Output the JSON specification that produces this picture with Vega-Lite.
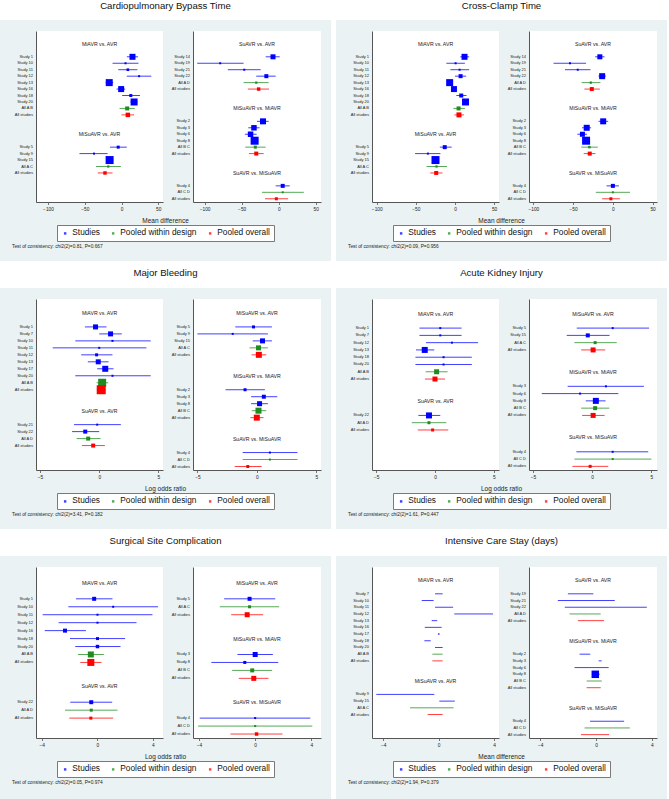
{
"$schema": "https://vega.github.io/schema/vega-lite/v6.json",
"background": "#eaf2f3",
"padding": 0,
"config": {
  "font": "Liberation Sans",
  "view": {"stroke": null},
  "axis": {"grid": false, "domainColor": "#555555", "tickColor": "#555555", "labelColor": "#222222", "labelFlush": false, "labelFontSize": 4.8, "tickSize": 2.5, "labelPadding": 1.5, "domainWidth": 1, "tickWidth": 0.8},
  "title": {"fontWeight": "normal", "color": "#111111"},
  "legend": {"orient": "bottom", "direction": "horizontal", "fillColor": "white", "strokeColor": "#7a7a7a", "padding": 4, "labelFontSize": 8.3, "labelColor": "#111111", "symbolSize": 6, "symbolStrokeWidth": 0, "symbolType": "square", "columnPadding": 9, "labelOffset": 3, "offset": 0, "layout": {"bottom": {"anchor": "middle"}}}
},
"resolve": {"legend": {"color": "independent"}},
"spacing": 0,
"datasets": {
"p1L": [
{"row":0,"label":"MiAVR vs. AVR"},
{"row":2,"label":"Study 1","type":"Studies","est":14.9,"lo":7.2,"hi":22.5,"w":36},
{"row":3,"label":"Study 10","type":"Studies","est":5.4,"lo":-12.2,"hi":23,"w":4},
{"row":4,"label":"Study 11","type":"Studies","est":8.6,"lo":-4.5,"hi":21.6,"w":7},
{"row":5,"label":"Study 12","type":"Studies","est":23.9,"lo":7.2,"hi":40.5,"w":4},
{"row":6,"label":"Study 13","type":"Studies","est":-16.7,"lo":-21.6,"hi":-11.3,"w":49},
{"row":7,"label":"Study 16","type":"Studies","est":-0.5,"lo":-6.8,"hi":5,"w":36},
{"row":8,"label":"Study 18","type":"Studies","est":12.6,"lo":0.9,"hi":25.2,"w":9},
{"row":9,"label":"Study 20","type":"Studies","est":17.1,"lo":12.2,"hi":21.6,"w":49},
{"row":10,"label":"All A B","type":"Pooled within design","est":7.7,"lo":-2.7,"hi":18,"w":16},
{"row":11,"label":"All studies","type":"Pooled overall","est":8.6,"lo":0,"hi":17.1,"w":20},
{"row":14,"label":"MiSuAVR vs. AVR"},
{"row":16,"label":"Study 5","type":"Studies","est":-4.5,"lo":-15.8,"hi":7.2,"w":9},
{"row":17,"label":"Study 9","type":"Studies","est":-37.4,"lo":-57.2,"hi":-18.9,"w":4},
{"row":18,"label":"Study 15","type":"Studies","est":-16.2,"lo":-20.7,"hi":-11.3,"w":64},
{"row":19,"label":"All A C","type":"Pooled within design","est":-18,"lo":-34.7,"hi":-0.9,"w":5},
{"row":20,"label":"All studies","type":"Pooled overall","est":-22.5,"lo":-32.4,"hi":-12.2,"w":12}
],
"p1R": [
{"row":0,"label":"SuAVR vs. AVR"},
{"row":2,"label":"Study 14","type":"Studies","est":-7.7,"lo":-17.6,"hi":1.4,"w":25},
{"row":3,"label":"Study 19","type":"Studies","est":-79,"lo":-110,"hi":-47.4,"w":4},
{"row":4,"label":"Study 21","type":"Studies","est":-46.5,"lo":-68.7,"hi":-24.4,"w":4},
{"row":5,"label":"Study 22","type":"Studies","est":-16.7,"lo":-30.3,"hi":-4.1,"w":16},
{"row":6,"label":"All A D","type":"Pooled within design","est":-30.3,"lo":-47.4,"hi":-13.6,"w":5},
{"row":7,"label":"All studies","type":"Pooled overall","est":-27.1,"lo":-41.6,"hi":-13.1,"w":12},
{"row":10,"label":"MiSuAVR vs. MiAVR"},
{"row":12,"label":"Study 2","type":"Studies","est":-21.2,"lo":-29.4,"hi":-13.6,"w":36},
{"row":13,"label":"Study 3","type":"Studies","est":-33.4,"lo":-41.1,"hi":-25.8,"w":30},
{"row":14,"label":"Study 6","type":"Studies","est":-38,"lo":-45.6,"hi":-29.8,"w":30},
{"row":15,"label":"Study 8","type":"Studies","est":-32.5,"lo":-37,"hi":-27.6,"w":64},
{"row":16,"label":"All B C","type":"Pooled within design","est":-31.6,"lo":-45.2,"hi":-17.6,"w":9},
{"row":17,"label":"All studies","type":"Pooled overall","est":-30.3,"lo":-40.2,"hi":-20.3,"w":16},
{"row":20,"label":"SuAVR vs. MiSuAVR"},
{"row":22,"label":"Study 4","type":"Studies","est":5.4,"lo":-4.1,"hi":14.9,"w":16},
{"row":23,"label":"All C D","type":"Pooled within design","est":5.4,"lo":-22.6,"hi":33.9,"w":4},
{"row":24,"label":"All studies","type":"Pooled overall","est":-3.2,"lo":-18.5,"hi":12.7,"w":9}
],
"p2L": [
{"row":0,"label":"MiAVR vs. AVR"},
{"row":2,"label":"Study 1","type":"Studies","est":12.2,"lo":6.8,"hi":18.1,"w":36},
{"row":3,"label":"Study 10","type":"Studies","est":0.8,"lo":-11,"hi":12.7,"w":4},
{"row":4,"label":"Study 11","type":"Studies","est":5.9,"lo":-5.9,"hi":18.1,"w":4},
{"row":5,"label":"Study 12","type":"Studies","est":7.2,"lo":0,"hi":14.3,"w":16},
{"row":6,"label":"Study 13","type":"Studies","est":-6.8,"lo":-10.1,"hi":-3.4,"w":49},
{"row":7,"label":"Study 16","type":"Studies","est":-1.3,"lo":-5.1,"hi":2.1,"w":36},
{"row":8,"label":"Study 18","type":"Studies","est":8,"lo":1.7,"hi":14.8,"w":16},
{"row":9,"label":"Study 20","type":"Studies","est":13.5,"lo":10.1,"hi":16.9,"w":49},
{"row":10,"label":"All A B","type":"Pooled within design","est":4.6,"lo":-2.1,"hi":12.7,"w":16},
{"row":11,"label":"All studies","type":"Pooled overall","est":5.1,"lo":-0.8,"hi":11.4,"w":25},
{"row":14,"label":"MiSuAVR vs. AVR"},
{"row":16,"label":"Study 5","type":"Studies","est":-13.1,"lo":-19.4,"hi":-4.2,"w":16},
{"row":17,"label":"Study 9","type":"Studies","est":-34.6,"lo":-51,"hi":-18.6,"w":4},
{"row":18,"label":"Study 15","type":"Studies","est":-24.9,"lo":-29.1,"hi":-20.7,"w":64},
{"row":19,"label":"All A C","type":"Pooled within design","est":-23.6,"lo":-36.3,"hi":-10.1,"w":5},
{"row":20,"label":"All studies","type":"Pooled overall","est":-24,"lo":-31.6,"hi":-16,"w":16}
],
"p2R": [
{"row":0,"label":"SuAVR vs. AVR"},
{"row":2,"label":"Study 14","type":"Studies","est":-16.4,"lo":-22.3,"hi":-10.5,"w":25},
{"row":3,"label":"Study 19","type":"Studies","est":-53.9,"lo":-74.6,"hi":-33.7,"w":4},
{"row":4,"label":"Study 21","type":"Studies","est":-44.2,"lo":-60.3,"hi":-28.2,"w":4},
{"row":5,"label":"Study 22","type":"Studies","est":-13.5,"lo":-18.1,"hi":-8.8,"w":36},
{"row":6,"label":"All A D","type":"Pooled within design","est":-27.8,"lo":-39.2,"hi":-15.6,"w":5},
{"row":7,"label":"All studies","type":"Pooled overall","est":-26.5,"lo":-35.8,"hi":-16.4,"w":16},
{"row":10,"label":"MiSuAVR vs. MiAVR"},
{"row":12,"label":"Study 2","type":"Studies","est":-12.2,"lo":-18.1,"hi":-5.9,"w":36},
{"row":13,"label":"Study 3","type":"Studies","est":-32.9,"lo":-38.8,"hi":-27.4,"w":36},
{"row":14,"label":"Study 6","type":"Studies","est":-38.3,"lo":-44.7,"hi":-32.5,"w":25},
{"row":15,"label":"Study 8","type":"Studies","est":-33.7,"lo":-37.9,"hi":-29.5,"w":64},
{"row":16,"label":"All B C","type":"Pooled within design","est":-29.5,"lo":-39.6,"hi":-19,"w":6},
{"row":17,"label":"All studies","type":"Pooled overall","est":-29.1,"lo":-36.7,"hi":-21.9,"w":16},
{"row":20,"label":"SuAVR vs. MiSuAVR"},
{"row":22,"label":"Study 4","type":"Studies","est":0,"lo":-8,"hi":7.6,"w":16},
{"row":23,"label":"All C D","type":"Pooled within design","est":0,"lo":-21.5,"hi":21.5,"w":4},
{"row":24,"label":"All studies","type":"Pooled overall","est":-2.5,"lo":-13.5,"hi":8.8,"w":9}
],
"p3L": [
{"row":0,"label":"MiAVR vs. AVR"},
{"row":2,"label":"Study 1","type":"Studies","est":-0.31,"lo":-1.21,"hi":0.62,"w":25},
{"row":3,"label":"Study 7","type":"Studies","est":0.96,"lo":0,"hi":1.91,"w":25},
{"row":4,"label":"Study 10","type":"Studies","est":1.12,"lo":-2.02,"hi":4.35,"w":4},
{"row":5,"label":"Study 11","type":"Studies","est":0,"lo":-3.93,"hi":3.99,"w":4},
{"row":6,"label":"Study 12","type":"Studies","est":-0.22,"lo":-1.52,"hi":1.12,"w":9},
{"row":7,"label":"Study 13","type":"Studies","est":-0.08,"lo":-0.96,"hi":0.79,"w":25},
{"row":8,"label":"Study 17","type":"Studies","est":0.51,"lo":-0.17,"hi":1.21,"w":36},
{"row":9,"label":"Study 20","type":"Studies","est":1.12,"lo":-2.02,"hi":4.35,"w":4},
{"row":10,"label":"All A B","type":"Pooled within design","est":0.25,"lo":-0.22,"hi":0.76,"w":64},
{"row":11,"label":"All studies","type":"Pooled overall","est":0.17,"lo":-0.2,"hi":0.56,"w":81},
{"row":14,"label":"SuAVR vs. AVR"},
{"row":16,"label":"Study 21","type":"Studies","est":-0.17,"lo":-2.13,"hi":1.83,"w":4},
{"row":17,"label":"Study 22","type":"Studies","est":-1.18,"lo":-2.3,"hi":0,"w":16},
{"row":18,"label":"All A D","type":"Pooled within design","est":-0.93,"lo":-1.91,"hi":0.11,"w":16},
{"row":19,"label":"All studies","type":"Pooled overall","est":-0.51,"lo":-1.46,"hi":0.48,"w":16}
],
"p3R": [
{"row":0,"label":"MiSuAVR vs. AVR"},
{"row":2,"label":"Study 5","type":"Studies","est":-0.28,"lo":-1.81,"hi":1.27,"w":9},
{"row":3,"label":"Study 9","type":"Studies","est":-2.03,"lo":-5,"hi":0.93,"w":4},
{"row":4,"label":"Study 15","type":"Studies","est":0.48,"lo":-0.34,"hi":1.27,"w":25},
{"row":5,"label":"All A C","type":"Pooled within design","est":0.14,"lo":-0.62,"hi":0.93,"w":25},
{"row":6,"label":"All studies","type":"Pooled overall","est":0.17,"lo":-0.45,"hi":0.79,"w":36},
{"row":9,"label":"MiSuAVR vs. MiAVR"},
{"row":11,"label":"Study 2","type":"Studies","est":-0.99,"lo":-2.63,"hi":0.68,"w":9},
{"row":12,"label":"Study 3","type":"Studies","est":0.59,"lo":-0.48,"hi":1.72,"w":16},
{"row":13,"label":"Study 8","type":"Studies","est":0.23,"lo":-0.48,"hi":0.93,"w":25},
{"row":14,"label":"All B C","type":"Pooled within design","est":0.14,"lo":-0.42,"hi":0.79,"w":36},
{"row":15,"label":"All studies","type":"Pooled overall","est":0,"lo":-0.54,"hi":0.56,"w":36},
{"row":18,"label":"SuAVR vs. MiSuAVR"},
{"row":20,"label":"Study 4","type":"Studies","est":1.1,"lo":-1.19,"hi":3.42,"w":4},
{"row":21,"label":"All C D","type":"Pooled within design","est":1.1,"lo":-1.19,"hi":3.42,"w":4},
{"row":22,"label":"All studies","type":"Pooled overall","est":-0.76,"lo":-1.86,"hi":0.4,"w":9}
],
"p4L": [
{"row":0,"label":"MiAVR vs. AVR"},
{"row":2,"label":"Study 1","type":"Studies","est":0.45,"lo":-1.32,"hi":2.26,"w":4},
{"row":3,"label":"Study 7","type":"Studies","est":0.45,"lo":-1.32,"hi":2.26,"w":4},
{"row":4,"label":"Study 12","type":"Studies","est":1.44,"lo":-0.76,"hi":3.66,"w":4},
{"row":5,"label":"Study 13","type":"Studies","est":-0.87,"lo":-1.61,"hi":-0.06,"w":36},
{"row":6,"label":"Study 18","type":"Studies","est":0.73,"lo":-1.66,"hi":3.13,"w":4},
{"row":7,"label":"Study 20","type":"Studies","est":0.73,"lo":-1.66,"hi":3.13,"w":4},
{"row":8,"label":"All A B","type":"Pooled within design","est":0.14,"lo":-0.79,"hi":1.07,"w":25},
{"row":9,"label":"All studies","type":"Pooled overall","est":0,"lo":-0.85,"hi":0.85,"w":25},
{"row":12,"label":"SuAVR vs. AVR"},
{"row":14,"label":"Study 22","type":"Studies","est":-0.51,"lo":-1.41,"hi":0.45,"w":36},
{"row":15,"label":"All A D","type":"Pooled within design","est":-0.51,"lo":-1.97,"hi":0.96,"w":9},
{"row":16,"label":"All studies","type":"Pooled overall","est":-0.2,"lo":-1.46,"hi":1.13,"w":9}
],
"p4R": [
{"row":0,"label":"MiSuAVR vs. AVR"},
{"row":2,"label":"Study 5","type":"Studies","est":1.73,"lo":-1.3,"hi":4.8,"w":4},
{"row":3,"label":"Study 15","type":"Studies","est":-0.37,"lo":-2.15,"hi":1.47,"w":16},
{"row":4,"label":"All A C","type":"Pooled within design","est":0.25,"lo":-1.5,"hi":2.07,"w":9},
{"row":5,"label":"All studies","type":"Pooled overall","est":0.08,"lo":-0.93,"hi":1.1,"w":25},
{"row":8,"label":"MiSuAVR vs. MiAVR"},
{"row":10,"label":"Study 3","type":"Studies","est":1.16,"lo":-2.07,"hi":4.36,"w":4},
{"row":11,"label":"Study 6","type":"Studies","est":-1.02,"lo":-4.25,"hi":2.21,"w":4},
{"row":12,"label":"Study 8","type":"Studies","est":0.31,"lo":-0.54,"hi":1.13,"w":36},
{"row":13,"label":"All B C","type":"Pooled within design","est":0.25,"lo":-0.93,"hi":1.44,"w":16},
{"row":14,"label":"All studies","type":"Pooled overall","est":0.08,"lo":-0.85,"hi":1.05,"w":25},
{"row":17,"label":"SuAVR vs. MiSuAVR"},
{"row":19,"label":"Study 4","type":"Studies","est":1.73,"lo":-1.33,"hi":4.73,"w":4},
{"row":20,"label":"All C D","type":"Pooled within design","est":1.73,"lo":-1.5,"hi":5,"w":4},
{"row":21,"label":"All studies","type":"Pooled overall","est":-0.17,"lo":-1.67,"hi":1.36,"w":9}
],
"p5L": [
{"row":0,"label":"MiAVR vs. AVR"},
{"row":2,"label":"Study 1","type":"Studies","est":-0.22,"lo":-1.53,"hi":1.1,"w":16},
{"row":3,"label":"Study 10","type":"Studies","est":1.15,"lo":-2.08,"hi":4.38,"w":4},
{"row":4,"label":"Study 11","type":"Studies","est":0.02,"lo":-3.93,"hi":3.98,"w":4},
{"row":5,"label":"Study 12","type":"Studies","est":0.02,"lo":-2.78,"hi":2.83,"w":4},
{"row":6,"label":"Study 16","type":"Studies","est":-2.32,"lo":-3.78,"hi":-0.81,"w":16},
{"row":7,"label":"Study 18","type":"Studies","est":0.02,"lo":-1.96,"hi":2.01,"w":9},
{"row":8,"label":"Study 20","type":"Studies","est":0.02,"lo":-1.58,"hi":1.68,"w":12},
{"row":9,"label":"All A B","type":"Pooled within design","est":-0.46,"lo":-1.39,"hi":0.48,"w":36},
{"row":10,"label":"All studies","type":"Pooled overall","est":-0.46,"lo":-1.22,"hi":0.31,"w":49},
{"row":13,"label":"SuAVR vs. AVR"},
{"row":15,"label":"Study 22","type":"Studies","est":-0.43,"lo":-1.94,"hi":1.08,"w":16},
{"row":16,"label":"All A D","type":"Pooled within design","est":-0.43,"lo":-2.32,"hi":1.46,"w":9},
{"row":17,"label":"All studies","type":"Pooled overall","est":-0.46,"lo":-2.01,"hi":1.15,"w":9}
],
"p5R": [
{"row":0,"label":"MiSuAVR vs. AVR"},
{"row":2,"label":"Study 5","type":"Studies","est":-0.4,"lo":-2.21,"hi":1.43,"w":16},
{"row":3,"label":"All A C","type":"Pooled within design","est":-0.4,"lo":-2.52,"hi":1.71,"w":9},
{"row":4,"label":"All studies","type":"Pooled overall","est":-0.57,"lo":-1.71,"hi":0.57,"w":25},
{"row":7,"label":"MiSuAVR vs. MiAVR"},
{"row":9,"label":"Study 3","type":"Studies","est":0,"lo":-1.26,"hi":1.26,"w":25},
{"row":10,"label":"Study 8","type":"Studies","est":-0.74,"lo":-3.12,"hi":1.64,"w":9},
{"row":11,"label":"All B C","type":"Pooled within design","est":-0.21,"lo":-1.64,"hi":1.21,"w":16},
{"row":12,"label":"All studies","type":"Pooled overall","est":-0.1,"lo":-1.17,"hi":0.95,"w":25},
{"row":15,"label":"SuAVR vs. MiSuAVR"},
{"row":17,"label":"Study 4","type":"Studies","est":0,"lo":-3.95,"hi":3.93,"w":4},
{"row":18,"label":"All C D","type":"Pooled within design","est":0,"lo":-4.07,"hi":4.07,"w":4},
{"row":19,"label":"All studies","type":"Pooled overall","est":0.1,"lo":-1.76,"hi":1.95,"w":12}
],
"p6L": [
{"row":0,"label":"MiAVR vs. AVR"},
{"row":2,"label":"Study 7","type":"Studies","est":0,"lo":-0.26,"hi":0.29,"w":0},
{"row":3,"label":"Study 10","type":"Studies","est":-0.79,"lo":-1.22,"hi":-0.36,"w":0},
{"row":4,"label":"Study 11","type":"Studies","est":0.4,"lo":-0.26,"hi":1.05,"w":0},
{"row":5,"label":"Study 12","type":"Studies","est":2.53,"lo":1.13,"hi":3.93,"w":0},
{"row":6,"label":"Study 13","type":"Studies","est":-0.3,"lo":-0.5,"hi":-0.1,"w":0},
{"row":7,"label":"Study 16","type":"Studies","est":-0.4,"lo":-1.0,"hi":0.22,"w":0},
{"row":8,"label":"Study 17","type":"Studies","est":0.01,"lo":-0.05,"hi":0.07,"w":1},
{"row":9,"label":"Study 18","type":"Studies","est":-0.8,"lo":-1.03,"hi":-0.57,"w":0},
{"row":10,"label":"Study 20","type":"Studies","est":0,"lo":-0.26,"hi":0.29,"w":0},
{"row":11,"label":"All A B","type":"Pooled within design","est":-0.08,"lo":-0.45,"hi":0.29,"w":0},
{"row":12,"label":"All studies","type":"Pooled overall","est":-0.08,"lo":-0.45,"hi":0.29,"w":0},
{"row":15,"label":"MiSuAVR vs. AVR"},
{"row":17,"label":"Study 9","type":"Studies","est":-2.4,"lo":-4.5,"hi":-0.31,"w":0},
{"row":18,"label":"Study 15","type":"Studies","est":0.61,"lo":0.05,"hi":1.17,"w":0},
{"row":19,"label":"All A C","type":"Pooled within design","est":-0.49,"lo":-2.06,"hi":1.08,"w":0},
{"row":20,"label":"All studies","type":"Pooled overall","est":-0.25,"lo":-0.79,"hi":0.29,"w":0}
],
"p6R": [
{"row":0,"label":"SuAVR vs. AVR"},
{"row":2,"label":"Study 19","type":"Studies","est":-1.1,"lo":-2.02,"hi":-0.19,"w":0},
{"row":3,"label":"Study 21","type":"Studies","est":-0.7,"lo":-2.74,"hi":1.35,"w":0},
{"row":4,"label":"Study 22","type":"Studies","est":0.7,"lo":-2.24,"hi":3.65,"w":0},
{"row":5,"label":"All A D","type":"Pooled within design","est":-0.78,"lo":-1.9,"hi":0.34,"w":0},
{"row":6,"label":"All studies","type":"Pooled overall","est":-0.36,"lo":-1.3,"hi":0.58,"w":0},
{"row":9,"label":"MiSuAVR vs. MiAVR"},
{"row":11,"label":"Study 2","type":"Studies","est":-0.8,"lo":-1.18,"hi":-0.41,"w":0},
{"row":12,"label":"Study 3","type":"Studies","est":0.3,"lo":0.19,"hi":0.41,"w":0},
{"row":13,"label":"Study 6","type":"Studies","est":-0.31,"lo":-1.54,"hi":0.91,"w":0},
{"row":14,"label":"Study 8","type":"Studies","est":-0.05,"lo":-0.19,"hi":0.26,"w":56},
{"row":15,"label":"All B C","type":"Pooled within design","est":-0.13,"lo":-0.67,"hi":0.41,"w":0},
{"row":16,"label":"All studies","type":"Pooled overall","est":-0.17,"lo":-0.67,"hi":0.34,"w":0},
{"row":19,"label":"SuAVR vs. MiSuAVR"},
{"row":21,"label":"Study 4","type":"Studies","est":0.8,"lo":-0.43,"hi":2.02,"w":0},
{"row":22,"label":"All C D","type":"Pooled within design","est":0.8,"lo":-0.82,"hi":2.43,"w":0},
{"row":23,"label":"All studies","type":"Pooled overall","est":-0.07,"lo":-1.08,"hi":0.94,"w":0}
],
"titles": [
{"id":"p1","t":"Cardiopulmonary Bypass Time"},
{"id":"p2","t":"Cross-Clamp Time"},
{"id":"p3","t":"Major Bleeding"},
{"id":"p4","t":"Acute Kidney Injury"},
{"id":"p5","t":"Surgical Site Complication"},
{"id":"p6","t":"Intensive Care Stay (days)"}
]
},
"hconcat": [
{
 "resolve": {"legend": {"color": "independent"}},
 "spacing": 12,
 "vconcat": [
  {
   "title": {"text": "Test of consistency: chi2(2)=0.81, P=0.667", "orient": "bottom", "anchor": "start", "fontSize": 4.8, "offset": 2, "dx": 12, "color": "#222222"},
   "spacing": 11,
   "vconcat": [
    {"width": 331, "height": 20, "view": {"fill": "white", "stroke": null}, "data": {"name": "titles"}, "transform": [{"filter": "datum.id == 'p1'"}], "mark": {"type": "text", "fontSize": 9.6, "dy": -4.5, "color": "#111111"}, "encoding": {"text": {"field": "t"}}},
    {"hconcat": [
      {"width": 6, "height": 171, "data": {"values": []}, "mark": "text", "encoding": {}},
      {"width": 127, "height": 171, "data": {"name": "p1L"}, "view": {"fill": "white", "stroke": null},
       "encoding": {"y": {"field": "row", "type": "quantitative", "scale": {"domain": [-2, 24.5], "reverse": true, "nice": false, "zero": false}, "axis": {"labels": false, "ticks": false, "title": null}}},
       "layer": [
        {"transform": [{"filter": "isValid(datum.type)"}], "mark": {"type": "rule", "strokeWidth": 1, "opacity": 0.75}, "encoding": {"x": {"field": "lo", "type": "quantitative", "scale": {"domain": [-116.3, 56.4], "nice": false, "zero": false}, "axis": {"values": [-100, -50, 0, 50], "title": null}}, "x2": {"field": "hi"}, "color": {"field": "type", "type": "nominal", "scale": {"domain": ["Studies", "Pooled within design", "Pooled overall"], "range": ["#0000ff", "#1e8c1e", "#ff0000"]}, "legend": {"title": null, "symbolType": "square"}}}},
        {"transform": [{"filter": "isValid(datum.type)"}], "mark": {"type": "point", "shape": "square", "filled": true, "opacity": 1}, "encoding": {"x": {"field": "est", "type": "quantitative"}, "size": {"field": "w", "type": "quantitative", "scale": {"domain": [0, 100], "range": [0, 100]}, "legend": null}, "color": {"field": "type", "type": "nominal", "legend": {"title": null, "symbolType": "square"}}}},
        {"transform": [{"filter": "isValid(datum.type)"}], "mark": {"type": "text", "align": "right", "fontSize": 4, "dx": -3, "color": "#222222"}, "encoding": {"x": {"datum": -116.3, "type": "quantitative"}, "text": {"field": "label"}}},
        {"transform": [{"filter": "!isValid(datum.type)"}], "mark": {"type": "text", "fontSize": 5.2, "color": "#222222"}, "encoding": {"text": {"field": "label"}}}
       ]},
      {"width": 128, "height": 171, "data": {"name": "p1R"}, "view": {"fill": "white", "stroke": null},
       "encoding": {"y": {"field": "row", "type": "quantitative", "scale": {"domain": [-2, 24.5], "reverse": true, "nice": false, "zero": false}, "axis": {"labels": false, "ticks": false, "title": null}}},
       "layer": [
        {"transform": [{"filter": "isValid(datum.type)"}], "mark": {"type": "rule", "strokeWidth": 1, "opacity": 0.75}, "encoding": {"x": {"field": "lo", "type": "quantitative", "scale": {"domain": [-115.7, 57.1], "nice": false, "zero": false}, "axis": {"values": [-100, -50, 0, 50], "title": null}}, "x2": {"field": "hi"}, "color": {"field": "type", "type": "nominal", "legend": {"title": null, "symbolType": "square"}}}},
        {"transform": [{"filter": "isValid(datum.type)"}], "mark": {"type": "point", "shape": "square", "filled": true, "opacity": 1}, "encoding": {"x": {"field": "est", "type": "quantitative"}, "size": {"field": "w", "type": "quantitative", "legend": null}, "color": {"field": "type", "type": "nominal", "legend": {"title": null, "symbolType": "square"}}}},
        {"transform": [{"filter": "isValid(datum.type)"}], "mark": {"type": "text", "align": "right", "fontSize": 4, "dx": -3, "color": "#222222"}, "encoding": {"x": {"datum": -115.7, "type": "quantitative"}, "text": {"field": "label"}}},
        {"transform": [{"filter": "!isValid(datum.type)"}], "mark": {"type": "text", "fontSize": 5.2, "color": "#222222"}, "encoding": {"text": {"field": "label"}}}
       ]}
     ],
     "spacing": 30, "bounds": "flush",
     "title": {"text": "Mean difference", "orient": "bottom", "anchor": "middle", "fontSize": 6.5, "offset": 7, "dx": 5, "color": "#222222"}}
   ]
  },
  {
   "title": {"text": "Test of consistency: chi2(2)=3.41, P=0.182", "orient": "bottom", "anchor": "start", "fontSize": 4.8, "offset": 2, "dx": 12, "color": "#222222"},
   "spacing": 11,
   "vconcat": [
    {"width": 331, "height": 27, "view": {"fill": "white", "stroke": null}, "data": {"name": "titles"}, "transform": [{"filter": "datum.id == 'p3'"}], "mark": {"type": "text", "fontSize": 9.6, "dy": -1.5, "color": "#111111"}, "encoding": {"text": {"field": "t"}}},
    {"hconcat": [
      {"width": 6, "height": 171, "data": {"values": []}, "mark": "text", "encoding": {}},
      {"width": 127, "height": 171, "data": {"name": "p3L"}, "view": {"fill": "white", "stroke": null},
       "encoding": {"y": {"field": "row", "type": "quantitative", "scale": {"domain": [-2, 22.5], "reverse": true, "nice": false, "zero": false}, "axis": {"labels": false, "ticks": false, "title": null}}},
       "layer": [
        {"transform": [{"filter": "isValid(datum.type)"}], "mark": {"type": "rule", "strokeWidth": 1, "opacity": 0.75}, "encoding": {"x": {"field": "lo", "type": "quantitative", "scale": {"domain": [-5.34, 5.39], "nice": false, "zero": false}, "axis": {"values": [-5, 0, 5], "title": null}}, "x2": {"field": "hi"}, "color": {"field": "type", "type": "nominal", "legend": {"title": null, "symbolType": "square"}}}},
        {"transform": [{"filter": "isValid(datum.type)"}], "mark": {"type": "point", "shape": "square", "filled": true, "opacity": 1}, "encoding": {"x": {"field": "est", "type": "quantitative"}, "size": {"field": "w", "type": "quantitative", "legend": null}, "color": {"field": "type", "type": "nominal", "legend": {"title": null, "symbolType": "square"}}}},
        {"transform": [{"filter": "isValid(datum.type)"}], "mark": {"type": "text", "align": "right", "fontSize": 4, "dx": -3, "color": "#222222"}, "encoding": {"x": {"datum": -5.34, "type": "quantitative"}, "text": {"field": "label"}}},
        {"transform": [{"filter": "!isValid(datum.type)"}], "mark": {"type": "text", "fontSize": 5.2, "color": "#222222"}, "encoding": {"text": {"field": "label"}}}
       ]},
      {"width": 128, "height": 171, "data": {"name": "p3R"}, "view": {"fill": "white", "stroke": null},
       "encoding": {"y": {"field": "row", "type": "quantitative", "scale": {"domain": [-2, 22.5], "reverse": true, "nice": false, "zero": false}, "axis": {"labels": false, "ticks": false, "title": null}}},
       "layer": [
        {"transform": [{"filter": "isValid(datum.type)"}], "mark": {"type": "rule", "strokeWidth": 1, "opacity": 0.75}, "encoding": {"x": {"field": "lo", "type": "quantitative", "scale": {"domain": [-5.37, 5.4], "nice": false, "zero": false}, "axis": {"values": [-5, 0, 5], "title": null}}, "x2": {"field": "hi"}, "color": {"field": "type", "type": "nominal", "legend": {"title": null, "symbolType": "square"}}}},
        {"transform": [{"filter": "isValid(datum.type)"}], "mark": {"type": "point", "shape": "square", "filled": true, "opacity": 1}, "encoding": {"x": {"field": "est", "type": "quantitative"}, "size": {"field": "w", "type": "quantitative", "legend": null}, "color": {"field": "type", "type": "nominal", "legend": {"title": null, "symbolType": "square"}}}},
        {"transform": [{"filter": "isValid(datum.type)"}], "mark": {"type": "text", "align": "right", "fontSize": 4, "dx": -3, "color": "#222222"}, "encoding": {"x": {"datum": -5.37, "type": "quantitative"}, "text": {"field": "label"}}},
        {"transform": [{"filter": "!isValid(datum.type)"}], "mark": {"type": "text", "fontSize": 5.2, "color": "#222222"}, "encoding": {"text": {"field": "label"}}}
       ]}
     ],
     "spacing": 30, "bounds": "flush",
     "title": {"text": "Log odds ratio", "orient": "bottom", "anchor": "middle", "fontSize": 6.5, "offset": 7, "dx": 5, "color": "#222222"}}
   ]
  },
  {
   "title": {"text": "Test of consistency: chi2(2)=0.05, P=0.974", "orient": "bottom", "anchor": "start", "fontSize": 4.8, "offset": 2, "dx": 12, "color": "#222222"},
   "spacing": 11,
   "vconcat": [
    {"width": 331, "height": 27, "view": {"fill": "white", "stroke": null}, "data": {"name": "titles"}, "transform": [{"filter": "datum.id == 'p5'"}], "mark": {"type": "text", "fontSize": 9.6, "dy": -1.5, "color": "#111111"}, "encoding": {"text": {"field": "t"}}},
    {"hconcat": [
      {"width": 6, "height": 171, "data": {"values": []}, "mark": "text", "encoding": {}},
      {"width": 127, "height": 171, "data": {"name": "p5L"}, "view": {"fill": "white", "stroke": null},
       "encoding": {"y": {"field": "row", "type": "quantitative", "scale": {"domain": [-2, 19.5], "reverse": true, "nice": false, "zero": false}, "axis": {"labels": false, "ticks": false, "title": null}}},
       "layer": [
        {"transform": [{"filter": "isValid(datum.type)"}], "mark": {"type": "rule", "strokeWidth": 1, "opacity": 0.75}, "encoding": {"x": {"field": "lo", "type": "quantitative", "scale": {"domain": [-4.41, 4.74], "nice": false, "zero": false}, "axis": {"values": [-4, -2, 0, 2, 4], "title": null}}, "x2": {"field": "hi"}, "color": {"field": "type", "type": "nominal", "legend": {"title": null, "symbolType": "square"}}}},
        {"transform": [{"filter": "isValid(datum.type)"}], "mark": {"type": "point", "shape": "square", "filled": true, "opacity": 1}, "encoding": {"x": {"field": "est", "type": "quantitative"}, "size": {"field": "w", "type": "quantitative", "legend": null}, "color": {"field": "type", "type": "nominal", "legend": {"title": null, "symbolType": "square"}}}},
        {"transform": [{"filter": "isValid(datum.type)"}], "mark": {"type": "text", "align": "right", "fontSize": 4, "dx": -3, "color": "#222222"}, "encoding": {"x": {"datum": -4.41, "type": "quantitative"}, "text": {"field": "label"}}},
        {"transform": [{"filter": "!isValid(datum.type)"}], "mark": {"type": "text", "fontSize": 5.2, "color": "#222222"}, "encoding": {"text": {"field": "label"}}}
       ]},
      {"width": 128, "height": 171, "data": {"name": "p5R"}, "view": {"fill": "white", "stroke": null},
       "encoding": {"y": {"field": "row", "type": "quantitative", "scale": {"domain": [-2, 19.5], "reverse": true, "nice": false, "zero": false}, "axis": {"labels": false, "ticks": false, "title": null}}},
       "layer": [
        {"transform": [{"filter": "isValid(datum.type)"}], "mark": {"type": "rule", "strokeWidth": 1, "opacity": 0.75}, "encoding": {"x": {"field": "lo", "type": "quantitative", "scale": {"domain": [-4.43, 4.69], "nice": false, "zero": false}, "axis": {"values": [-4, -2, 0, 2, 4], "title": null}}, "x2": {"field": "hi"}, "color": {"field": "type", "type": "nominal", "legend": {"title": null, "symbolType": "square"}}}},
        {"transform": [{"filter": "isValid(datum.type)"}], "mark": {"type": "point", "shape": "square", "filled": true, "opacity": 1}, "encoding": {"x": {"field": "est", "type": "quantitative"}, "size": {"field": "w", "type": "quantitative", "legend": null}, "color": {"field": "type", "type": "nominal", "legend": {"title": null, "symbolType": "square"}}}},
        {"transform": [{"filter": "isValid(datum.type)"}], "mark": {"type": "text", "align": "right", "fontSize": 4, "dx": -3, "color": "#222222"}, "encoding": {"x": {"datum": -4.43, "type": "quantitative"}, "text": {"field": "label"}}},
        {"transform": [{"filter": "!isValid(datum.type)"}], "mark": {"type": "text", "fontSize": 5.2, "color": "#222222"}, "encoding": {"text": {"field": "label"}}}
       ]}
     ],
     "spacing": 30, "bounds": "flush",
     "title": {"text": "Log odds ratio", "orient": "bottom", "anchor": "middle", "fontSize": 6.5, "offset": 7, "dx": 5, "color": "#222222"}}
   ]
  }
 ]
},
{"width": 5, "height": 799, "view": {"fill": "white", "stroke": null}, "data": {"values": []}, "mark": "text", "encoding": {}},
{
 "resolve": {"legend": {"color": "independent"}},
 "spacing": 12,
 "vconcat": [
  {
   "title": {"text": "Test of consistency: chi2(2)=0.09, P=0.956", "orient": "bottom", "anchor": "start", "fontSize": 4.8, "offset": 2, "dx": 12, "color": "#222222"},
   "spacing": 11,
   "vconcat": [
    {"width": 331, "height": 20, "view": {"fill": "white", "stroke": null}, "data": {"name": "titles"}, "transform": [{"filter": "datum.id == 'p2'"}], "mark": {"type": "text", "fontSize": 9.6, "dy": -4.5, "color": "#111111"}, "encoding": {"text": {"field": "t"}}},
    {"hconcat": [
      {"width": 6, "height": 171, "data": {"values": []}, "mark": "text", "encoding": {}},
      {"width": 127, "height": 171, "data": {"name": "p2L"}, "view": {"fill": "white", "stroke": null},
       "encoding": {"y": {"field": "row", "type": "quantitative", "scale": {"domain": [-2, 24.5], "reverse": true, "nice": false, "zero": false}, "axis": {"labels": false, "ticks": false, "title": null}}},
       "layer": [
        {"transform": [{"filter": "isValid(datum.type)"}], "mark": {"type": "rule", "strokeWidth": 1, "opacity": 0.75}, "encoding": {"x": {"field": "lo", "type": "quantitative", "scale": {"domain": [-106.1, 56.3], "nice": false, "zero": false}, "axis": {"values": [-100, -50, 0, 50], "title": null}}, "x2": {"field": "hi"}, "color": {"field": "type", "type": "nominal", "legend": {"title": null, "symbolType": "square"}}}},
        {"transform": [{"filter": "isValid(datum.type)"}], "mark": {"type": "point", "shape": "square", "filled": true, "opacity": 1}, "encoding": {"x": {"field": "est", "type": "quantitative"}, "size": {"field": "w", "type": "quantitative", "legend": null}, "color": {"field": "type", "type": "nominal", "legend": {"title": null, "symbolType": "square"}}}},
        {"transform": [{"filter": "isValid(datum.type)"}], "mark": {"type": "text", "align": "right", "fontSize": 4, "dx": -3, "color": "#222222"}, "encoding": {"x": {"datum": -106.1, "type": "quantitative"}, "text": {"field": "label"}}},
        {"transform": [{"filter": "!isValid(datum.type)"}], "mark": {"type": "text", "fontSize": 5.2, "color": "#222222"}, "encoding": {"text": {"field": "label"}}}
       ]},
      {"width": 128, "height": 171, "data": {"name": "p2R"}, "view": {"fill": "white", "stroke": null},
       "encoding": {"y": {"field": "row", "type": "quantitative", "scale": {"domain": [-2, 24.5], "reverse": true, "nice": false, "zero": false}, "axis": {"labels": false, "ticks": false, "title": null}}},
       "layer": [
        {"transform": [{"filter": "isValid(datum.type)"}], "mark": {"type": "rule", "strokeWidth": 1, "opacity": 0.75}, "encoding": {"x": {"field": "lo", "type": "quantitative", "scale": {"domain": [-105.5, 55.5], "nice": false, "zero": false}, "axis": {"values": [-100, -50, 0, 50], "title": null}}, "x2": {"field": "hi"}, "color": {"field": "type", "type": "nominal", "legend": {"title": null, "symbolType": "square"}}}},
        {"transform": [{"filter": "isValid(datum.type)"}], "mark": {"type": "point", "shape": "square", "filled": true, "opacity": 1}, "encoding": {"x": {"field": "est", "type": "quantitative"}, "size": {"field": "w", "type": "quantitative", "legend": null}, "color": {"field": "type", "type": "nominal", "legend": {"title": null, "symbolType": "square"}}}},
        {"transform": [{"filter": "isValid(datum.type)"}], "mark": {"type": "text", "align": "right", "fontSize": 4, "dx": -3, "color": "#222222"}, "encoding": {"x": {"datum": -105.5, "type": "quantitative"}, "text": {"field": "label"}}},
        {"transform": [{"filter": "!isValid(datum.type)"}], "mark": {"type": "text", "fontSize": 5.2, "color": "#222222"}, "encoding": {"text": {"field": "label"}}}
       ]}
     ],
     "spacing": 30, "bounds": "flush",
     "title": {"text": "Mean difference", "orient": "bottom", "anchor": "middle", "fontSize": 6.5, "offset": 7, "dx": 5, "color": "#222222"}}
   ]
  },
  {
   "title": {"text": "Test of consistency: chi2(2)=1.61, P=0.447", "orient": "bottom", "anchor": "start", "fontSize": 4.8, "offset": 2, "dx": 12, "color": "#222222"},
   "spacing": 11,
   "vconcat": [
    {"width": 331, "height": 27, "view": {"fill": "white", "stroke": null}, "data": {"name": "titles"}, "transform": [{"filter": "datum.id == 'p4'"}], "mark": {"type": "text", "fontSize": 9.6, "dy": -1.5, "color": "#111111"}, "encoding": {"text": {"field": "t"}}},
    {"hconcat": [
      {"width": 6, "height": 171, "data": {"values": []}, "mark": "text", "encoding": {}},
      {"width": 127, "height": 171, "data": {"name": "p4L"}, "view": {"fill": "white", "stroke": null},
       "encoding": {"y": {"field": "row", "type": "quantitative", "scale": {"domain": [-2, 21.5], "reverse": true, "nice": false, "zero": false}, "axis": {"labels": false, "ticks": false, "title": null}}},
       "layer": [
        {"transform": [{"filter": "isValid(datum.type)"}], "mark": {"type": "rule", "strokeWidth": 1, "opacity": 0.75}, "encoding": {"x": {"field": "lo", "type": "quantitative", "scale": {"domain": [-5.35, 5.44], "nice": false, "zero": false}, "axis": {"values": [-5, 0, 5], "title": null}}, "x2": {"field": "hi"}, "color": {"field": "type", "type": "nominal", "legend": {"title": null, "symbolType": "square"}}}},
        {"transform": [{"filter": "isValid(datum.type)"}], "mark": {"type": "point", "shape": "square", "filled": true, "opacity": 1}, "encoding": {"x": {"field": "est", "type": "quantitative"}, "size": {"field": "w", "type": "quantitative", "legend": null}, "color": {"field": "type", "type": "nominal", "legend": {"title": null, "symbolType": "square"}}}},
        {"transform": [{"filter": "isValid(datum.type)"}], "mark": {"type": "text", "align": "right", "fontSize": 4, "dx": -3, "color": "#222222"}, "encoding": {"x": {"datum": -5.35, "type": "quantitative"}, "text": {"field": "label"}}},
        {"transform": [{"filter": "!isValid(datum.type)"}], "mark": {"type": "text", "fontSize": 5.2, "color": "#222222"}, "encoding": {"text": {"field": "label"}}}
       ]},
      {"width": 128, "height": 171, "data": {"name": "p4R"}, "view": {"fill": "white", "stroke": null},
       "encoding": {"y": {"field": "row", "type": "quantitative", "scale": {"domain": [-2, 21.5], "reverse": true, "nice": false, "zero": false}, "axis": {"labels": false, "ticks": false, "title": null}}},
       "layer": [
        {"transform": [{"filter": "isValid(datum.type)"}], "mark": {"type": "rule", "strokeWidth": 1, "opacity": 0.75}, "encoding": {"x": {"field": "lo", "type": "quantitative", "scale": {"domain": [-5.33, 5.47], "nice": false, "zero": false}, "axis": {"values": [-5, 0, 5], "title": null}}, "x2": {"field": "hi"}, "color": {"field": "type", "type": "nominal", "legend": {"title": null, "symbolType": "square"}}}},
        {"transform": [{"filter": "isValid(datum.type)"}], "mark": {"type": "point", "shape": "square", "filled": true, "opacity": 1}, "encoding": {"x": {"field": "est", "type": "quantitative"}, "size": {"field": "w", "type": "quantitative", "legend": null}, "color": {"field": "type", "type": "nominal", "legend": {"title": null, "symbolType": "square"}}}},
        {"transform": [{"filter": "isValid(datum.type)"}], "mark": {"type": "text", "align": "right", "fontSize": 4, "dx": -3, "color": "#222222"}, "encoding": {"x": {"datum": -5.33, "type": "quantitative"}, "text": {"field": "label"}}},
        {"transform": [{"filter": "!isValid(datum.type)"}], "mark": {"type": "text", "fontSize": 5.2, "color": "#222222"}, "encoding": {"text": {"field": "label"}}}
       ]}
     ],
     "spacing": 30, "bounds": "flush",
     "title": {"text": "Log odds ratio", "orient": "bottom", "anchor": "middle", "fontSize": 6.5, "offset": 7, "dx": 5, "color": "#222222"}}
   ]
  },
  {
   "title": {"text": "Test of consistency: chi2(2)=1.94, P=0.379", "orient": "bottom", "anchor": "start", "fontSize": 4.8, "offset": 2, "dx": 12, "color": "#222222"},
   "spacing": 11,
   "vconcat": [
    {"width": 331, "height": 27, "view": {"fill": "white", "stroke": null}, "data": {"name": "titles"}, "transform": [{"filter": "datum.id == 'p6'"}], "mark": {"type": "text", "fontSize": 9.6, "dy": -1.5, "color": "#111111"}, "encoding": {"text": {"field": "t"}}},
    {"hconcat": [
      {"width": 6, "height": 171, "data": {"values": []}, "mark": "text", "encoding": {}},
      {"width": 127, "height": 171, "data": {"name": "p6L"}, "view": {"fill": "white", "stroke": null},
       "encoding": {"y": {"field": "row", "type": "quantitative", "scale": {"domain": [-2, 23.5], "reverse": true, "nice": false, "zero": false}, "axis": {"labels": false, "ticks": false, "title": null}}},
       "layer": [
        {"transform": [{"filter": "isValid(datum.type)"}], "mark": {"type": "rule", "strokeWidth": 1, "opacity": 0.75}, "encoding": {"x": {"field": "lo", "type": "quantitative", "scale": {"domain": [-4.81, 4.36], "nice": false, "zero": false}, "axis": {"values": [-4, -2, 0, 2, 4], "title": null}}, "x2": {"field": "hi"}, "color": {"field": "type", "type": "nominal", "legend": {"title": null, "symbolType": "square"}}}},
        {"transform": [{"filter": "isValid(datum.type)"}], "mark": {"type": "point", "shape": "square", "filled": true, "opacity": 1}, "encoding": {"x": {"field": "est", "type": "quantitative"}, "size": {"field": "w", "type": "quantitative", "legend": null}, "color": {"field": "type", "type": "nominal", "legend": {"title": null, "symbolType": "square"}}}},
        {"transform": [{"filter": "isValid(datum.type)"}], "mark": {"type": "text", "align": "right", "fontSize": 4, "dx": -3, "color": "#222222"}, "encoding": {"x": {"datum": -4.81, "type": "quantitative"}, "text": {"field": "label"}}},
        {"transform": [{"filter": "!isValid(datum.type)"}], "mark": {"type": "text", "fontSize": 5.2, "color": "#222222"}, "encoding": {"text": {"field": "label"}}}
       ]},
      {"width": 128, "height": 171, "data": {"name": "p6R"}, "view": {"fill": "white", "stroke": null},
       "encoding": {"y": {"field": "row", "type": "quantitative", "scale": {"domain": [-2, 23.5], "reverse": true, "nice": false, "zero": false}, "axis": {"labels": false, "ticks": false, "title": null}}},
       "layer": [
        {"transform": [{"filter": "isValid(datum.type)"}], "mark": {"type": "rule", "strokeWidth": 1, "opacity": 0.75}, "encoding": {"x": {"field": "lo", "type": "quantitative", "scale": {"domain": [-4.81, 4.38], "nice": false, "zero": false}, "axis": {"values": [-4, -2, 0, 2, 4], "title": null}}, "x2": {"field": "hi"}, "color": {"field": "type", "type": "nominal", "legend": {"title": null, "symbolType": "square"}}}},
        {"transform": [{"filter": "isValid(datum.type)"}], "mark": {"type": "point", "shape": "square", "filled": true, "opacity": 1}, "encoding": {"x": {"field": "est", "type": "quantitative"}, "size": {"field": "w", "type": "quantitative", "legend": null}, "color": {"field": "type", "type": "nominal", "legend": {"title": null, "symbolType": "square"}}}},
        {"transform": [{"filter": "isValid(datum.type)"}], "mark": {"type": "text", "align": "right", "fontSize": 4, "dx": -3, "color": "#222222"}, "encoding": {"x": {"datum": -4.81, "type": "quantitative"}, "text": {"field": "label"}}},
        {"transform": [{"filter": "!isValid(datum.type)"}], "mark": {"type": "text", "fontSize": 5.2, "color": "#222222"}, "encoding": {"text": {"field": "label"}}}
       ]}
     ],
     "spacing": 30, "bounds": "flush",
     "title": {"text": "Mean difference", "orient": "bottom", "anchor": "middle", "fontSize": 6.5, "offset": 7, "dx": 5, "color": "#222222"}}
   ]
  }
 ]
}
]
}
